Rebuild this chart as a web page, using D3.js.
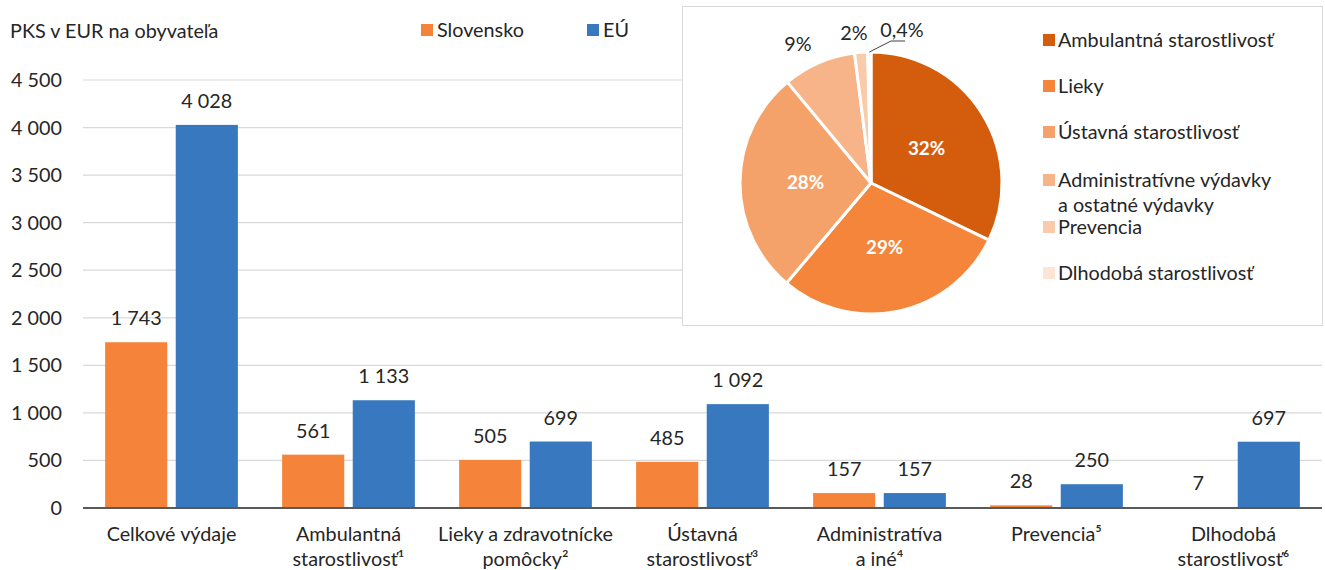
<!DOCTYPE html>
<html>
<head>
<meta charset="utf-8">
<script src="https://cdn.jsdelivr.net/npm/d3@7"></script>
<style>
  body { margin: 0; background: #fff; }
  text { font-family: Lato, "Open Sans", sans-serif; fill: #262626; }
</style>
</head>
<body>
<div id="chart"></div>
<script>
// data
const categories = ['Celkové výdaje', 'Ambulantná\nstarostlivosť¹', 'Lieky a zdravotnícke\npomôcky²',
    'Ústavná\nstarostlivosť³', 'Administratíva\na iné⁴', 'Prevencia⁵', 'Dlhodobá\nstarostlivosť⁶'];
const seriesNames = ['Slovensko', 'EÚ'];
const slovensko = [1743, 561, 505, 485, 157, 28, 7];
const eu = [4028, 1133, 699, 1092, 157, 250, 697];
const yTicks = [0, 500, 1000, 1500, 2000, 2500, 3000, 3500, 4000, 4500];
const pieNames = ['Ambulantná starostlivosť', 'Lieky', 'Ústavná starostlivosť',
    'Administratívne výdavky\na ostatné výdavky', 'Prevencia', 'Dlhodobá starostlivosť'];
const pieValues = slovensko.slice(1);

const width = 1325, height = 570;
const margin = { top: 80, right: 3, bottom: 62, left: 83 };
const fs = 19.8;
const barColors = ['#F5843A', '#3878BE'];
const pieColors = ['#D45D0D', '#F4853A', '#F5A26A', '#F7B489', '#FACBAA', '#FDE4D4'];

const svg = d3.select('#chart').append('svg')
    .attr('width', width).attr('height', height);

const nf = d3.formatLocale({ decimal: ',', thousands: '\u00a0', grouping: [3], currency: ['', ''] }).format(',d');

const x = d3.scaleBand().domain(d3.range(categories.length))
    .range([margin.left, width - margin.right]).paddingInner(0.25).paddingOuter(0.125);
const xs = d3.scaleBand().domain(d3.range(2)).range([0, x.bandwidth()]).paddingInner(0.12);
const y = d3.scaleLinear().domain([0, 4500]).range([height - margin.bottom, margin.top]);

// grid
svg.append('g').selectAll('line').data(yTicks.slice(1)).join('line')
    .attr('x1', margin.left).attr('x2', width - margin.right)
    .attr('y1', d => y(d)).attr('y2', d => y(d))
    .attr('stroke', '#d9d9d9').attr('stroke-width', 1.2);

svg.append('g').selectAll('text').data(yTicks).join('text')
    .attr('x', 62).attr('y', d => y(d) + 7)
    .attr('text-anchor', 'end').attr('font-size', fs)
    .text(d => nf(d));

// bars
const data = [slovensko, eu];
const groups = svg.append('g').selectAll('g').data(data).join('g')
    .attr('fill', (d, i) => barColors[i]);
groups.selectAll('rect').data((d, s) => d.map((v, i) => ({ v, i, s }))).join('rect')
    .attr('x', d => x(d.i) + xs(d.s))
    .attr('y', d => y(d.v))
    .attr('width', xs.bandwidth())
    .attr('height', d => y(0) - y(d.v));

svg.append('g').selectAll('text').data(data.flatMap((d, s) => d.map((v, i) => ({ v, i, s })))).join('text')
    .attr('x', d => x(d.i) + xs(d.s) + xs.bandwidth() / 2)
    .attr('y', d => y(d.v) - 17)
    .attr('text-anchor', 'middle').attr('font-size', fs)
    .text(d => nf(d.v));

// baseline
svg.append('line').attr('x1', margin.left).attr('x2', width - margin.right)
    .attr('y1', y(0)).attr('y2', y(0)).attr('stroke', '#595959').attr('stroke-width', 2);

// category labels
const catLabels = svg.append('g').selectAll('text').data(categories).join('text')
    .attr('text-anchor', 'middle').attr('font-size', fs)
    .attr('x', (d, i) => x(i) + x.bandwidth() / 2).attr('y', 541);
catLabels.selectAll('tspan').data(d => d.split('\n')).join('tspan')
    .attr('x', function () { return this.parentNode.getAttribute('x'); })
    .attr('dy', (d, i) => i === 0 ? 0 : 25)
    .text(d => d);

// title and legend
svg.append('text').attr('x', 10).attr('y', 38).attr('font-size', fs).text('PKS v EUR na obyvateľa');
const legendX = [421, 587];
seriesNames.forEach((name, i) => {
    svg.append('rect').attr('x', legendX[i]).attr('y', 24).attr('width', 12).attr('height', 12).attr('fill', barColors[i]);
    svg.append('text').attr('x', legendX[i] + 16).attr('y', 37).attr('font-size', fs).text(name);
});

// pie box
svg.append('rect').attr('x', 682.5).attr('y', 6.5).attr('width', 640).attr('height', 319)
    .attr('fill', '#fff').attr('stroke', '#d9d9d9');

const cx = 871, cy = 183, r = 131;
const pie = d3.pie().sort(null).value(d => d)(pieValues);
const arc = d3.arc().innerRadius(0).outerRadius(r);
const pieG = svg.append('g').attr('transform', `translate(${cx},${cy})`);
pieG.selectAll('path').data(pie).join('path')
    .attr('d', arc).attr('fill', (d, i) => pieColors[i])
    .attr('stroke', '#fff').attr('stroke-width', 3).attr('stroke-linejoin', 'round');

const total = d3.sum(pieValues);
const pctFmt = v => {
    const p = v / total * 100;
    return p < 1 ? p.toFixed(1).replace('.', ',') + '%' : Math.round(p) + '%';
};
const inArc = d3.arc().innerRadius(r * 0.5).outerRadius(r * 0.5);
pieG.selectAll('text.in').data(pie.slice(0, 3)).join('text')
    .attr('class', 'in')
    .attr('transform', d => `translate(${inArc.centroid(d)})`)
    .attr('text-anchor', 'middle').attr('dy', 6.5)
    .attr('font-size', fs - 1).attr('font-weight', 'bold').style('fill', '#fff')
    .text(d => pctFmt(d.value));

// outside labels
const outPos = [[-73, -139], [-17, -150], [31, -153]];
pieG.selectAll('text.out').data(pie.slice(3)).join('text')
    .attr('class', 'out')
    .attr('x', (d, i) => outPos[i][0]).attr('y', (d, i) => outPos[i][1] + 7)
    .attr('text-anchor', 'middle').attr('font-size', fs)
    .text(d => pctFmt(d.value));
const last = pie[pie.length - 1];
const la = (last.startAngle + last.endAngle) / 2;
pieG.append('polyline')
    .attr('points', [[Math.sin(la) * r, -Math.cos(la) * r], [20, -142], [34, -142]].map(p => p.join(',')).join(' '))
    .attr('fill', 'none').attr('stroke', '#404040').attr('stroke-width', 1);

// pie legend
const legY = [40, 86, 132, 180, 227, 273];
const pieLeg = svg.append('g').selectAll('g').data(pieNames).join('g')
    .attr('transform', (d, i) => `translate(1043,${legY[i]})`);
pieLeg.append('rect').attr('x', 0).attr('y', -6).attr('width', 12).attr('height', 12)
    .attr('fill', (d, i) => pieColors[i]);
pieLeg.append('text').attr('x', 15).attr('y', 7).attr('font-size', fs)
    .selectAll('tspan').data(d => d.split('\n')).join('tspan')
    .attr('x', 15).attr('dy', (d, i) => i === 0 ? 0 : 25).text(d => d);
</script>
</body>
</html>
